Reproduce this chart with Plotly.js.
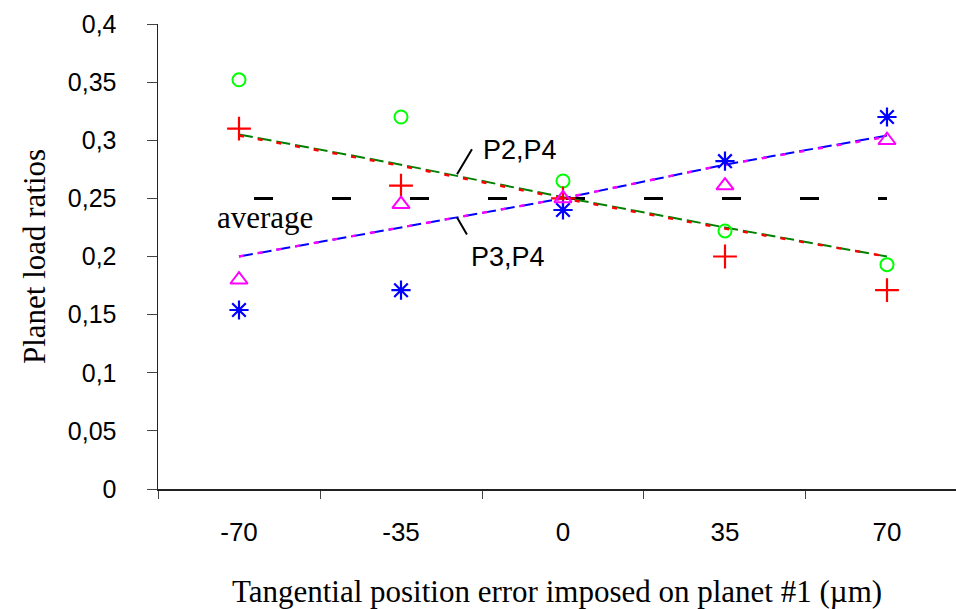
<!DOCTYPE html>
<html>
<head>
<meta charset="utf-8">
<script src="https://cdn.plot.ly/plotly-3.0.1.min.js"></script>
<style>html,body{margin:0;padding:0;background:#fff;overflow:hidden}#chart{width:956px;height:609px}</style>
</head>
<body>
<div id="chart"></div>
<script>
// Categories (tangential position error, µm)
const categories = ["-70", "-35", "0", "35", "70"];

// Measured points
const seriesP2 = [0.352, 0.320, 0.265, 0.222, 0.193];   // green circles
const seriesP4a = [0.310, 0.261, 0.250, 0.200, 0.171];  // red crosses
const seriesP3 = [0.154, 0.171, 0.240, 0.282, 0.320];   // blue asterisks
const seriesP4b = [0.180, 0.245, 0.250, 0.261, 0.300];  // magenta triangles

// Fitted curves
const fitP2 = [0.305, 0.279, 0.251, 0.225, 0.200];
const fitP4a = [0.304, 0.278, 0.250, 0.224, 0.200];
const fitP3 = [0.200, 0.225, 0.250, 0.279, 0.304];
const fitP4b = [0.200, 0.225, 0.250, 0.279, 0.303];

// Average
const averageX = ["-70", "70"];
const averageY = [0.25, 0.25];

const yTicks = [0, 0.05, 0.1, 0.15, 0.2, 0.25, 0.3, 0.35, 0.4];

const serif = "Liberation Serif, Times New Roman, serif";
const sans = "Liberation Sans, Arial, sans-serif";

const traces = [
  {x: averageX, y: averageY, mode: "lines", line: {color: "#000", width: 3, dash: "0px,15px,19px,44px"}},
  {x: categories, y: fitP2, mode: "lines", line: {color: "#008000", width: 2, dash: "14px,5px"}},
  {x: categories, y: fitP4a, mode: "lines", line: {color: "#ff0000", width: 2.4, dash: "5px,14px"}},
  {x: categories, y: fitP3, mode: "lines", line: {color: "#0000ff", width: 2, dash: "14px,5px"}},
  {x: categories, y: fitP4b, mode: "lines", line: {color: "#ff00ff", width: 2.4, dash: "5px,14px"}},
  {x: categories, y: seriesP2, mode: "markers", marker: {symbol: "circle-open", size: 13, color: "#00ff00", line: {width: 2, color: "#00ff00"}}},
  {x: categories, y: seriesP4a, mode: "markers", marker: {symbol: "cross-thin-open", size: 17, color: "#ff0000", line: {width: 2.2, color: "#ff0000"}}},
  {x: categories, y: seriesP3, mode: "markers", marker: {symbol: "asterisk-open", size: 16, color: "#0000ff", line: {width: 2.2, color: "#0000ff"}}},
  {x: categories, y: seriesP4b, mode: "markers", marker: {symbol: "triangle-up-open", size: 15, color: "#ff00ff", line: {width: 2, color: "#ff00ff"}}}
];

const layout = {
  width: 956, height: 609,
  margin: {l: 158, r: 0, t: 24, b: 120, pad: 0},
  paper_bgcolor: "#fff", plot_bgcolor: "#fff",
  showlegend: false,
  separators: ", ",
  xaxis: {
    type: "category",
    categoryorder: "array", categoryarray: categories,
    range: [-0.5, 4.426],
    tickson: "boundaries",
    ticks: "outside", ticklen: 8, tickcolor: "#444", tickwidth: 1,
    showline: true, linecolor: "#222", linewidth: 1.5,
    showgrid: false, zeroline: false,
    tickfont: {family: sans, size: 26, color: "#000"},
    ticklabelstandoff: 19,
    title: {text: "Tangential position error imposed on planet #1 (µm)", font: {family: serif, size: 31, color: "#000"}, standoff: 36}
  },
  yaxis: {
    range: [0, 0.4],
    tickvals: yTicks,
    ticks: "outside", ticklen: 10, tickcolor: "#444", tickwidth: 1,
    showline: true, linecolor: "#222", linewidth: 1.5,
    showgrid: false, zeroline: false,
    tickfont: {family: sans, size: 25, color: "#000"},
    ticklabelstandoff: 25,
    title: {text: "Planet load ratios", font: {family: serif, size: 31, color: "#000"}, standoff: 13}
  },
  shapes: [
    {type: "line", xref: "x", yref: "y", x0: 1.438, y0: 0.2922, x1: 1.346, y1: 0.2707, line: {color: "#000", width: 2}},
    {type: "line", xref: "x", yref: "y", x0: 1.346, y0: 0.2336, x1: 1.407, y1: 0.219, line: {color: "#000", width: 2}}
  ],
  annotations: [
    {x: 1.494, y: 0.292, xref: "x", yref: "y", text: "P2,P4", showarrow: false, xanchor: "left", yanchor: "middle", font: {family: sans, size: 27, color: "#000"}},
    {x: 1.42, y: 0.2, xref: "x", yref: "y", text: "P3,P4", showarrow: false, xanchor: "left", yanchor: "middle", font: {family: sans, size: 27, color: "#000"}},
    {x: -0.148, y: 0.2336, xref: "x", yref: "y", text: "average", showarrow: false, xanchor: "left", yanchor: "middle", font: {family: serif, size: 31, color: "#000"}}
  ]
};

Plotly.newPlot("chart", traces, layout, {displayModeBar: false, staticPlot: true});
</script>
</body>
</html>
